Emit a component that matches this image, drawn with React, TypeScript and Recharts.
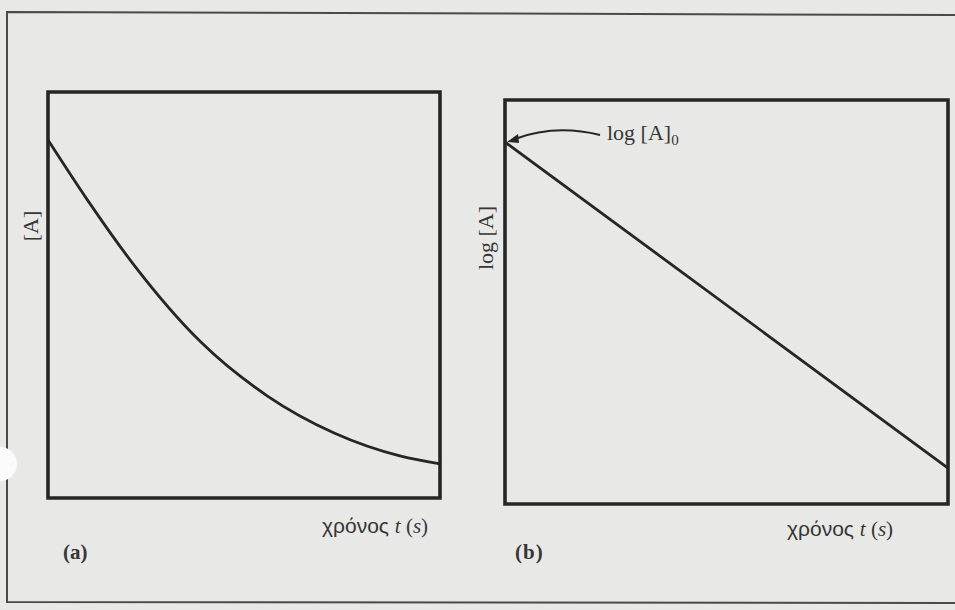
import React from 'react'
import { LineChart, Line, XAxis, YAxis, ReferenceArea } from 'recharts'

// panel (a): [A] against time (0-100 both ways)
const timeA = [0, 10, 22, 39, 56, 73, 90, 100]
const concA = [88.2, 73.5, 57.3, 38.4, 25.1, 16.0, 10.3, 8.4]

// panel (b): log[A] against time, straight line
const timeB = [0, 100]
const logB = [89.6, 8.9]

const dataA = timeA.map((t, i) => ({ t, v: concA[i] }))
const dataB = timeB.map((t, i) => ({ t, v: logB[i] }))

const ink = '#262626'
const textInk = '#363636'
const paper = '#e8e8e6'
const serif = '"Liberation Serif", "DejaVu Serif", serif'
const sans = '"Liberation Sans", Arial, sans-serif'

const Panel = ({ data, curved, left, top, width, height, margin }: any) => (
  <div style={{ position: 'absolute', left, top }}>
    <LineChart width={width} height={height} data={data} margin={margin}>
      <XAxis dataKey="t" type="number" domain={[0, 100]} hide />
      <YAxis type="number" domain={[0, 100]} hide />
      <ReferenceArea x1={0} x2={100} y1={0} y2={100} fill="none" stroke={ink} strokeWidth={3.6} />
      <Line
        dataKey="v"
        type={curved ? 'monotone' : 'linear'}
        stroke={ink}
        strokeWidth={2.8}
        dot={false}
        isAnimationActive={false}
      />
    </LineChart>
  </div>
)

const TimeLabel = ({ x, y }: { x: number; y: number }) => (
  <text x={x} y={y} fill={textInk} fontSize={21}>
    <tspan fontFamily={sans}>χρόνος </tspan>
    <tspan fontFamily={serif} fontStyle="italic">t</tspan>
    <tspan fontFamily={serif}> (</tspan>
    <tspan fontFamily={serif} fontStyle="italic">s</tspan>
    <tspan fontFamily={serif}>)</tspan>
  </text>
)

export default function App() {
  return (
    <div
      style={{
        position: 'absolute',
        left: 0,
        top: 0,
        width: 955,
        height: 610,
        background: paper,
        overflow: 'hidden',
      }}
    >
      <Panel
        data={dataA}
        curved
        left={0}
        top={60}
        width={470}
        height={470}
        margin={{ top: 32, right: 30, bottom: 32, left: 48 }}
      />
      <Panel
        data={dataB}
        left={480}
        top={60}
        width={475}
        height={470}
        margin={{ top: 40, right: 7, bottom: 26, left: 25 }}
      />
      <svg
        width={955}
        height={610}
        style={{ position: 'absolute', left: 0, top: 0, pointerEvents: 'none' }}
      >
        {/* page frame */}
        <path d="M 955 15 L 7 12 L 7 602 L 955 603" fill="none" stroke="#4a4a4a" strokeWidth={2} />
        <circle cx={0} cy={464} r={17} fill="#fbfbfb" />

        <text
          x={30}
          y={226}
          transform="rotate(-90 30 226)"
          textAnchor="middle"
          dominantBaseline="central"
          fontFamily={serif}
          fontSize={22}
          fill={textInk}
        >
          [A]
        </text>
        <text
          x={485}
          y={238}
          transform="rotate(-90 485 238)"
          textAnchor="middle"
          dominantBaseline="central"
          fontFamily={serif}
          fontSize={22}
          fill={textInk}
        >
          log [A]
        </text>

        <TimeLabel x={322} y={533} />
        <TimeLabel x={787} y={536} />

        <text x={63} y={559} fontFamily={serif} fontWeight="bold" fontSize={21} fill={textInk}>
          (a)
        </text>
        <text x={515} y={559} fontFamily={serif} fontWeight="bold" fontSize={21} letterSpacing={1} fill={textInk}>
          (b)
        </text>

        {/* annotation for the intercept */}
        <text x={607} y={140} fontFamily={serif} fontSize={22} fill={textInk}>
          log [A]
          <tspan fontSize={15} dy={5}>0</tspan>
        </text>
        <path d="M 600 135 Q 555 124 515 139" fill="none" stroke={ink} strokeWidth={2} />
        <path d="M 507 142 L 518 134 L 519 143 Z" fill={ink} />
      </svg>
    </div>
  )
}
